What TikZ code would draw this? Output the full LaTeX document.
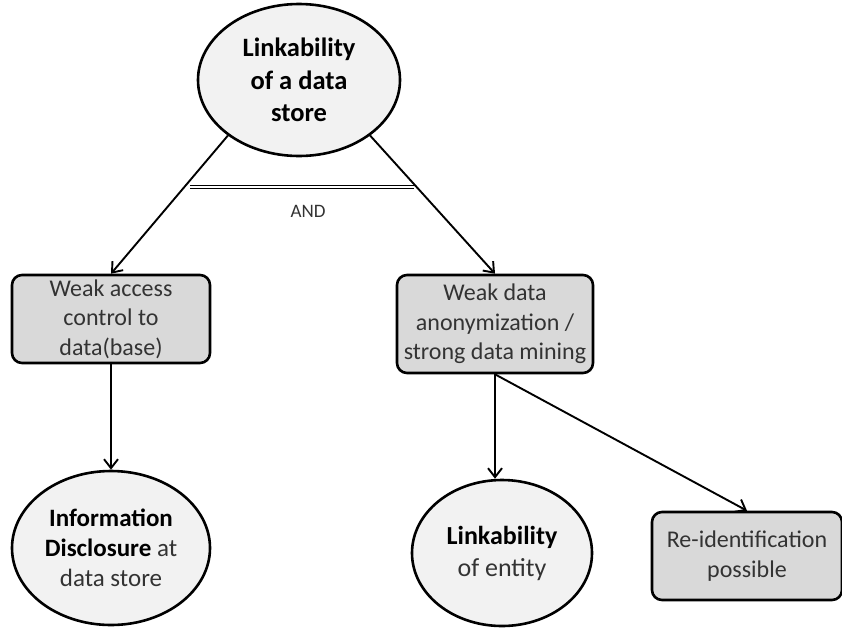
\documentclass[tikz,border=0pt]{standalone}
\usepackage{fontspec}
\setmainfont{Carlito}
\usetikzlibrary{shapes.geometric,arrows.meta}
\begin{document}
\begin{tikzpicture}[x=1pt,y=-1pt,
  ell/.style={ellipse,draw,line width=2.6pt,fill=black!5,inner sep=0pt,align=center},
  box/.style={rectangle,rounded corners=10pt,draw,line width=2.6pt,fill=black!15,inner sep=0pt,
    align=center,font=\fontsize{24}{29.5}\selectfont,text=black!80},
  arr/.style={line width=1.9pt,-{Straight Barb[length=9pt,width=14pt,line width=1.9pt]}}]
\useasboundingbox (0,0) rectangle (842,627);
\node[ell,minimum width=202pt,minimum height=152pt,font=\fontsize{26.5}{32.5}\selectfont] (top) at (299,80) {\textbf{Linkability}\\\textbf{of a data}\\\textbf{store}};
\node[box,minimum width=198pt,minimum height=88pt] (lbox) at (111,319) {Weak access\\control to\\data(base)};
\node[box,minimum width=196pt,minimum height=98pt] (rbox) at (495,324) {Weak data\\anonymization /\\strong data mining};
\node[ell,minimum width=198pt,minimum height=154pt,font=\fontsize{25}{30}\selectfont] (info) at (111,548) {\textbf{Information}\\\textbf{Disclosure} {\color{black!80}at}\\{\color{black!80}data store}};
\node[ell,minimum width=180pt,minimum height=146pt,font=\fontsize{26}{32}\selectfont] (link) at (502,553) {\textbf{Linkability}\\{\color{black!80}of entity}};
\node[box,minimum width=190pt,minimum height=88pt] (reid) at (747,556) {Re-identification\\possible};
\coordinate (andL) at (190,187);
\coordinate (andR) at (414,187);
\node[font=\fontsize{19}{22}\selectfont,text=black!80] (and) at (308,211) {AND};
\draw[arr] (top.-142) -- (lbox.north);
\draw[arr] (top.-38) -- (rbox.north);
\draw[line width=1.1pt,double,double distance=2.4pt] (andL) -- (andR);
\draw[arr] (lbox.south) -- (info.north);
\draw[arr] (rbox.south) -- (rbox.south |- link.north);
\draw[arr] (rbox.south) -- (reid.north);
\end{tikzpicture}
\end{document}
